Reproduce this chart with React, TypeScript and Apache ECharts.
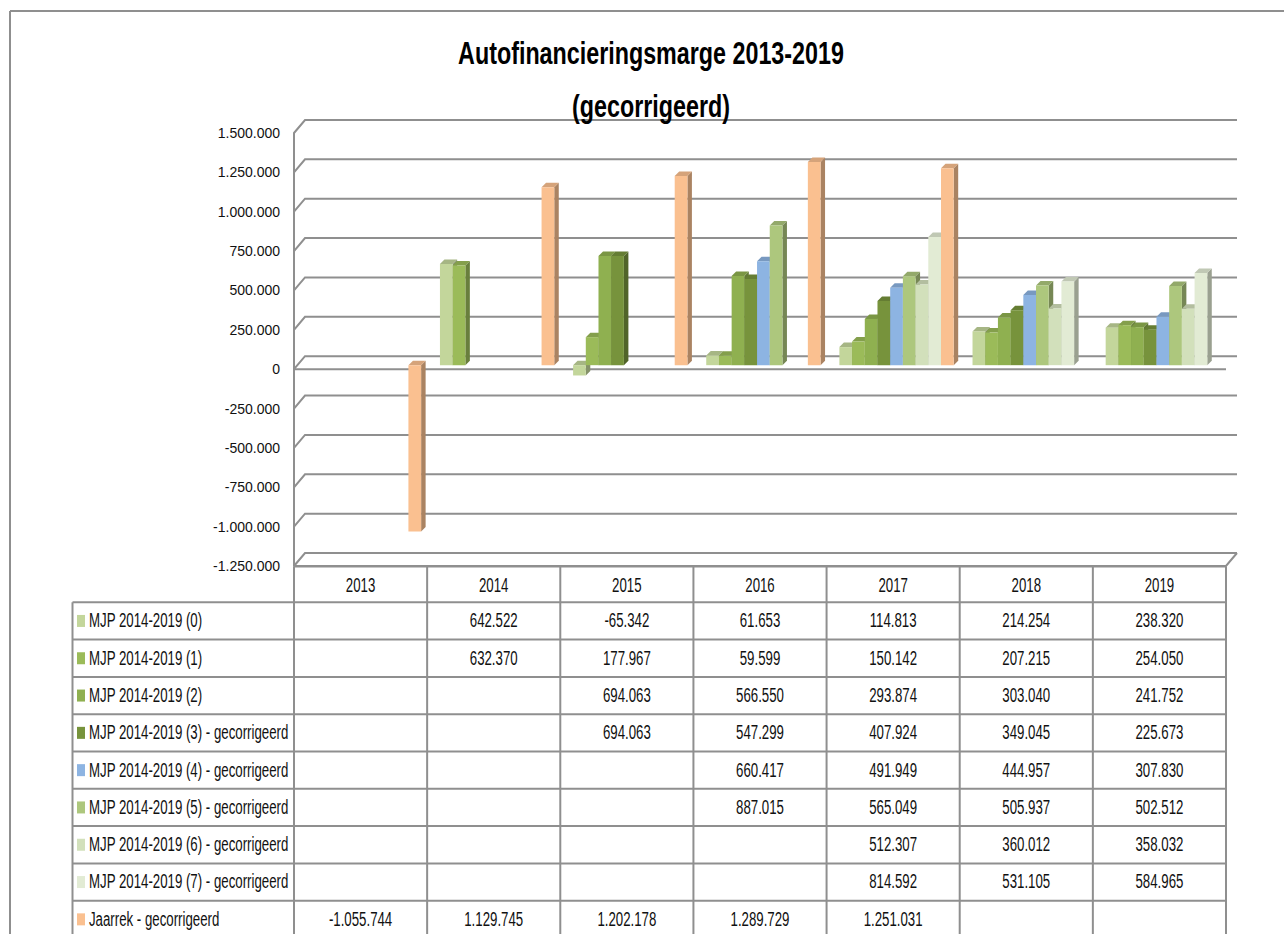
import React, { useEffect, useRef } from "react";
import * as echarts from "echarts";

// ---------- data ----------
const YEARS = ["2013", "2014", "2015", "2016", "2017", "2018", "2019"];

const SERIES_NAMES = [
  "MJP 2014-2019 (0)",
  "MJP 2014-2019 (1)",
  "MJP 2014-2019 (2)",
  "MJP 2014-2019 (3) - gecorrigeerd",
  "MJP 2014-2019 (4) - gecorrigeerd",
  "MJP 2014-2019 (5) - gecorrigeerd",
  "MJP 2014-2019 (6) - gecorrigeerd",
  "MJP 2014-2019 (7) - gecorrigeerd",
  "Jaarrek - gecorrigeerd",
];

const MJP0 = [null, 642522, -65342, 61653, 114813, 214254, 238320];
const MJP1 = [null, 632370, 177967, 59599, 150142, 207215, 254050];
const MJP2 = [null, null, 694063, 566550, 293874, 303040, 241752];
const MJP3 = [null, null, 694063, 547299, 407924, 349045, 225673];
const MJP4 = [null, null, null, 660417, 491949, 444957, 307830];
const MJP5 = [null, null, null, 887015, 565049, 505937, 502512];
const MJP6 = [null, null, null, null, 512307, 360012, 358032];
const MJP7 = [null, null, null, null, 814592, 531105, 584965];
const JAARREK = [-1055744, 1129745, 1202178, 1289729, 1251031, null, null];

const SERIES_VALUES: (number | null)[][] = [MJP0, MJP1, MJP2, MJP3, MJP4, MJP5, MJP6, MJP7, JAARREK];

const SERIES_COLORS = [
  "#c3d69b",
  "#9bbb59",
  "#8fb050",
  "#77933c",
  "#8db4e2",
  "#adc77d",
  "#d2e0bb",
  "#e2ebd4",
  "#fac090",
];

const Y_MIN = -1250000;
const Y_MAX = 1500000;
const Y_STEP = 250000;
const Y_TICKS = [-1250000, -1000000, -750000, -500000, -250000, 0, 250000, 500000, 750000, 1000000, 1250000, 1500000];

const TITLE_LINES = ["Autofinancieringsmarge 2013-2019", "(gecorrigeerd)"];

// ---------- layout / style ----------
const W = 1284;
const H = 934;
const GRID_LEFT = 294;
const GRID_TOP = 133;
const GRID_W = 932;
const GRID_H = 433;
const WALL_DX = 11;
const WALL_DY = -13;
const BAR_DX = 4.5;
const BAR_DY = -4.5;
const LINE_COLOR = "#8f8f8f";
const FONT = "'Liberation Sans', Arial, sans-serif";
const TEXT_COLOR = "#111111";
const TABLE_FONT_SIZE = 19.5;
const TABLE_SCALE = 0.68;
const TITLE_FONT_SIZE = 31.5;
const TITLE_SCALE = 0.74;

const TABLE_LEFT = 72.5;
const HEADER_TOP = 566.5;
const ROW_TOP = 602.3;
const ROW_H = 37.3;

function fmt(v: number): string {
  const s = Math.abs(Math.round(v)).toString().replace(/\B(?=(\d{3})+(?!\d))/g, ".");
  return (v < 0 ? "-" : "") + s;
}

function shade(hex: string, f: number): string {
  const n = parseInt(hex.slice(1), 16);
  const r = Math.round(((n >> 16) & 255) * f);
  const g = Math.round(((n >> 8) & 255) * f);
  const b = Math.round((n & 255) * f);
  return `rgb(${r},${g},${b})`;
}

function buildOption(): any {
  const colW = GRID_W / YEARS.length;
  const nSeries = SERIES_VALUES.length;

  const wallSeries = {
    type: "custom",
    name: "wall",
    silent: true,
    z: 1,
    data: Y_TICKS.map((v) => [0, v]),
    renderItem: (params: any, api: any) => {
      const v = api.value(1);
      const cs = params.coordSys;
      const yf = api.coord([0, v])[1];
      const xl = cs.x;
      const xr = cs.x + cs.width;
      const st = { stroke: LINE_COLOR, lineWidth: 2, fill: "none" };
      const children: any[] = [
        {
          type: "polyline",
          shape: { points: [[xl, yf], [xl + WALL_DX, yf + WALL_DY], [xr + WALL_DX, yf + WALL_DY]] },
          style: st,
        },
      ];
      if (v === 0) {
        children.push({
          type: "line",
          shape: { x1: xl, y1: yf, x2: xr, y2: yf },
          style: st,
        });
      }
      if (v === Y_MIN) {
        children.push({
          type: "polyline",
          shape: { points: [[xl, yf], [xr, yf], [xr + WALL_DX, yf + WALL_DY]] },
          style: st,
        });
      }
      return { type: "group", children };
    },
  };

  const barSeries = SERIES_VALUES.map((vals, sIdx) => {
    const color = SERIES_COLORS[sIdx];
    const topC = shade(color, 0.85);
    const sideC = shade(color, 0.68);
    const data: any[] = [];
    vals.forEach((v, i) => {
      if (v !== null) data.push([i, v]);
    });
    return {
      type: "custom",
      name: SERIES_NAMES[sIdx],
      z: 3,
      itemStyle: { color },
      data,
      renderItem: (params: any, api: any) => {
        const ci = api.value(0);
        const v = api.value(1);
        const band = api.size([1, 0])[0];
        const base = api.coord([ci, 0]);
        const slot = band * 0.0954;
        const x0 = base[0] - band / 2 + 3.3 + band * 0.0714 + sIdx * slot;
        const w = slot;
        const yZero = base[1] - 4;
        const yVal = api.coord([ci, v])[1] - 4;
        const top = Math.min(yZero, yVal);
        const bottom = Math.max(yZero, yVal);
        return {
          type: "group",
          children: [
            {
              type: "polygon",
              shape: {
                points: [
                  [x0 + w, top],
                  [x0 + w + BAR_DX, top + BAR_DY],
                  [x0 + w + BAR_DX, bottom + BAR_DY],
                  [x0 + w, bottom],
                ],
              },
              style: { fill: sideC },
            },
            {
              type: "polygon",
              shape: {
                points: [
                  [x0, top],
                  [x0 + BAR_DX, top + BAR_DY],
                  [x0 + w + BAR_DX, top + BAR_DY],
                  [x0 + w, top],
                ],
              },
              style: { fill: topC },
            },
            {
              type: "rect",
              shape: { x: x0, y: top, width: w, height: bottom - top },
              style: { fill: color },
            },
          ],
        };
      },
    };
  });

  // ---------- title, data table (graphic) ----------
  const g: any[] = [];
  const ln = (x1: number, y1: number, x2: number, y2: number) => ({
    type: "line",
    silent: true,
    shape: { x1, y1, x2, y2 },
    style: { stroke: LINE_COLOR, lineWidth: 2 },
  });
  const txt = (text: string, x: number, y: number, align: string, size = TABLE_FONT_SIZE, scale = TABLE_SCALE, weight = "normal") => ({
    type: "text",
    silent: true,
    x,
    y,
    scaleX: scale,
    z: 10,
    style: {
      text,
      fill: weight === "bold" ? "#000000" : TEXT_COLOR,
      font: `${weight} ${size}px ${FONT}`,
      textAlign: align,
      textVerticalAlign: "middle",
      verticalAlign: "middle",
    },
  });

  // outer frame
  g.push(ln(10, 11, W, 11));
  g.push(ln(10, 11, 10, H));

  // title
  g.push(txt(TITLE_LINES[0], 651, 53.5, "center", TITLE_FONT_SIZE, TITLE_SCALE, "bold"));
  g.push(txt(TITLE_LINES[1], 651, 106.5, "center", TITLE_FONT_SIZE, TITLE_SCALE, "bold"));

  // header
  g.push(ln(GRID_LEFT, HEADER_TOP, GRID_LEFT + GRID_W, HEADER_TOP));
  for (let i = 0; i <= YEARS.length; i++) {
    const x = GRID_LEFT + i * colW;
    g.push(ln(x, HEADER_TOP, x, H));
  }
  YEARS.forEach((y, i) => {
    g.push(txt(y, GRID_LEFT + (i + 0.5) * colW, (HEADER_TOP + ROW_TOP) / 2 + 1, "center"));
  });
  // rows
  g.push(ln(TABLE_LEFT, ROW_TOP, TABLE_LEFT, H));
  for (let r = 0; r <= nSeries; r++) {
    const y = ROW_TOP + r * ROW_H;
    g.push(ln(TABLE_LEFT, y, GRID_LEFT + GRID_W, y));
  }
  SERIES_NAMES.forEach((name, r) => {
    const cy = ROW_TOP + (r + 0.5) * ROW_H;
    g.push({
      type: "rect",
      silent: true,
      shape: { x: 77, y: cy - 6, width: 8, height: 12 },
      style: { fill: SERIES_COLORS[r] },
    });
    g.push(txt(name, 89, cy, "left"));
    SERIES_VALUES[r].forEach((v, i) => {
      if (v !== null) g.push(txt(fmt(v), GRID_LEFT + (i + 0.5) * colW, cy, "center"));
    });
  });

  return {
    animation: false,
    backgroundColor: "#ffffff",
    grid: { left: GRID_LEFT, top: GRID_TOP, width: GRID_W, height: GRID_H, containLabel: false },
    xAxis: {
      type: "category",
      data: YEARS,
      show: false,
    },
    yAxis: {
      type: "value",
      min: Y_MIN,
      max: Y_MAX,
      interval: Y_STEP,
      axisLine: { show: true, lineStyle: { color: LINE_COLOR, width: 2 } },
      axisTick: { show: false },
      splitLine: { show: false },
      axisLabel: {
        margin: 14,
        fontFamily: FONT,
        fontSize: 14,
        color: TEXT_COLOR,
        formatter: (v: number) => fmt(v),
      },
    },
    series: [wallSeries, ...barSeries],
    graphic: { elements: g },
  };
}

export default function App() {
  const ref = useRef<HTMLDivElement>(null);
  useEffect(() => {
    if (!ref.current) return;
    const chart = echarts.init(ref.current, undefined, { renderer: "svg" });
    chart.setOption(buildOption());
    return () => {
      chart.dispose();
    };
  }, []);
  return (
    <div
      ref={ref}
      style={{ position: "fixed", left: 0, top: 0, width: W, height: H, background: "#fff" }}
    />
  );
}
